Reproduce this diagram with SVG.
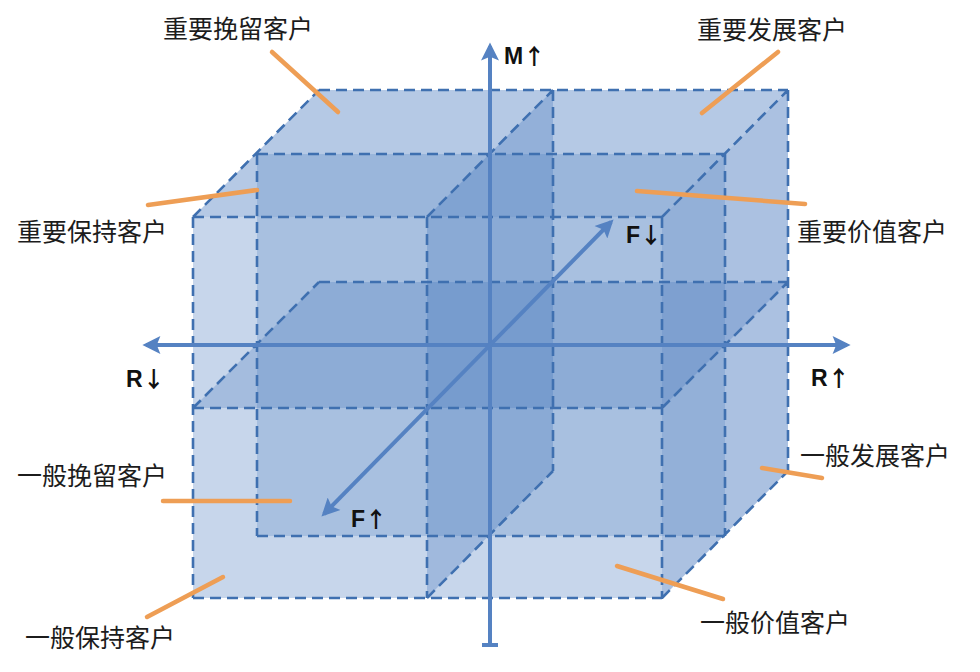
<svg xmlns="http://www.w3.org/2000/svg" width="980" height="672" viewBox="0 0 980 672">
<defs>
<style>
.face{fill:#4778bd;stroke:none}
.edges{fill:none;stroke:#3f70b0;stroke-width:2.6;stroke-dasharray:11 6}
.axis{fill:none;stroke:#5582c2;stroke-width:4}
.lead{stroke:#ee9e55;stroke-width:4.5;stroke-linecap:round}
.lbl{font-family:"Noto Sans CJK SC","Noto Sans",sans-serif;font-size:25px;fill:#1c1c1c}
.ax{font-family:"Liberation Sans","DejaVu Sans",sans-serif;font-size:23px;font-weight:bold;fill:#111}
.arr{font-family:"Noto Sans CJK SC","DejaVu Sans",sans-serif;font-size:22px;font-weight:bold}
</style>
<marker id="ah" viewBox="0 0 10 10" refX="8" refY="5" markerWidth="5" markerHeight="4.5" orient="auto-start-reverse" markerUnits="strokeWidth">
<path d="M0,0 L10,5 L0,10 L2,5 z" fill="#5582c2"/>
</marker>
</defs>
<rect width="980" height="672" fill="#ffffff"/>
<g id="cube">
<polygon id="top-face" class="face" fill-opacity="0.4" points="193,217 662,217 788,90 319,90"/>
<polygon id="right-face" class="face" fill-opacity="0.46" points="662,217 788,90 788,471 662,598"/>
<polygon id="front-face" class="face" fill-opacity="0.3" points="193,217 662,217 662,598 193,598"/>
<polygon id="mid-depth-plane" class="face" fill-opacity="0.24" points="257,154 725,154 725,536 257,536"/>
<polygon id="horizontal-mid-plane" class="face" fill-opacity="0.27" points="193,408 662,408 788,282 319,282"/>
<polygon id="vertical-mid-plane" class="face" fill-opacity="0.3" points="427,217 553,90 553,471 427,598"/>
<path id="cube-edges" class="edges" d="M193,217 H662 M193,598 H662 M193,217 V598 M662,217 V598 M193,217 L319,90 M319,90 H788 M662,217 L788,90 M788,90 V471 M662,598 L788,471 M257,154 H725 M257,536 H725 M257,154 V536 M725,154 V536 M193,408 H662 M319,282 H788 M193,408 L319,282 M662,408 L788,282 M427,217 V598 M553,90 V471 M427,217 L553,90 M427,598 L553,471"/>
</g>
<g id="connectors">
<line class="axis" x1="490" y1="645" x2="490" y2="46" marker-end="url(#ah)"/>
<line class="axis" x1="482" y1="645" x2="498" y2="645"/>
<line class="axis" x1="146" y1="345" x2="847" y2="345" marker-start="url(#ah)" marker-end="url(#ah)"/>
<line class="axis" x1="324" y1="514" x2="611" y2="222" marker-start="url(#ah)" marker-end="url(#ah)"/>
<line class="lead" x1="272" y1="52" x2="338" y2="112"/>
<line class="lead" x1="148" y1="205" x2="257" y2="190"/>
<line class="lead" x1="778" y1="52" x2="702" y2="113"/>
<line class="lead" x1="637" y1="191" x2="805" y2="204"/>
<line class="lead" x1="163" y1="501" x2="290" y2="501"/>
<line class="lead" x1="147" y1="617" x2="223" y2="577"/>
<line class="lead" x1="762" y1="468" x2="822" y2="478"/>
<line class="lead" x1="617" y1="566" x2="723" y2="599"/>
</g>
<g id="axis-labels">
<text id="m-up" class="ax" x="504" y="64">M<tspan class="arr">↑</tspan></text>
<text id="f-down" class="ax" x="626" y="243">F<tspan class="arr">↓</tspan></text>
<text id="r-down" class="ax" x="126" y="387">R<tspan class="arr">↓</tspan></text>
<text id="r-up" class="ax" x="811" y="386">R<tspan class="arr">↑</tspan></text>
<text id="f-up" class="ax" x="351" y="527">F<tspan class="arr">↑</tspan></text>
</g>
<g id="segment-labels">
<text id="n1" class="lbl" x="163" y="38">重要挽留客户</text>
<text id="n2" class="lbl" x="697" y="39">重要发展客户</text>
<text id="n3" class="lbl" x="17" y="241">重要保持客户</text>
<text id="n4" class="lbl" x="797" y="241">重要价值客户</text>
<text id="n5" class="lbl" x="17" y="485">一般挽留客户</text>
<text id="n6" class="lbl" x="800" y="465">一般发展客户</text>
<text id="n7" class="lbl" x="25" y="647">一般保持客户</text>
<text id="n8" class="lbl" x="700" y="632">一般价值客户</text>
</g>
</svg>
